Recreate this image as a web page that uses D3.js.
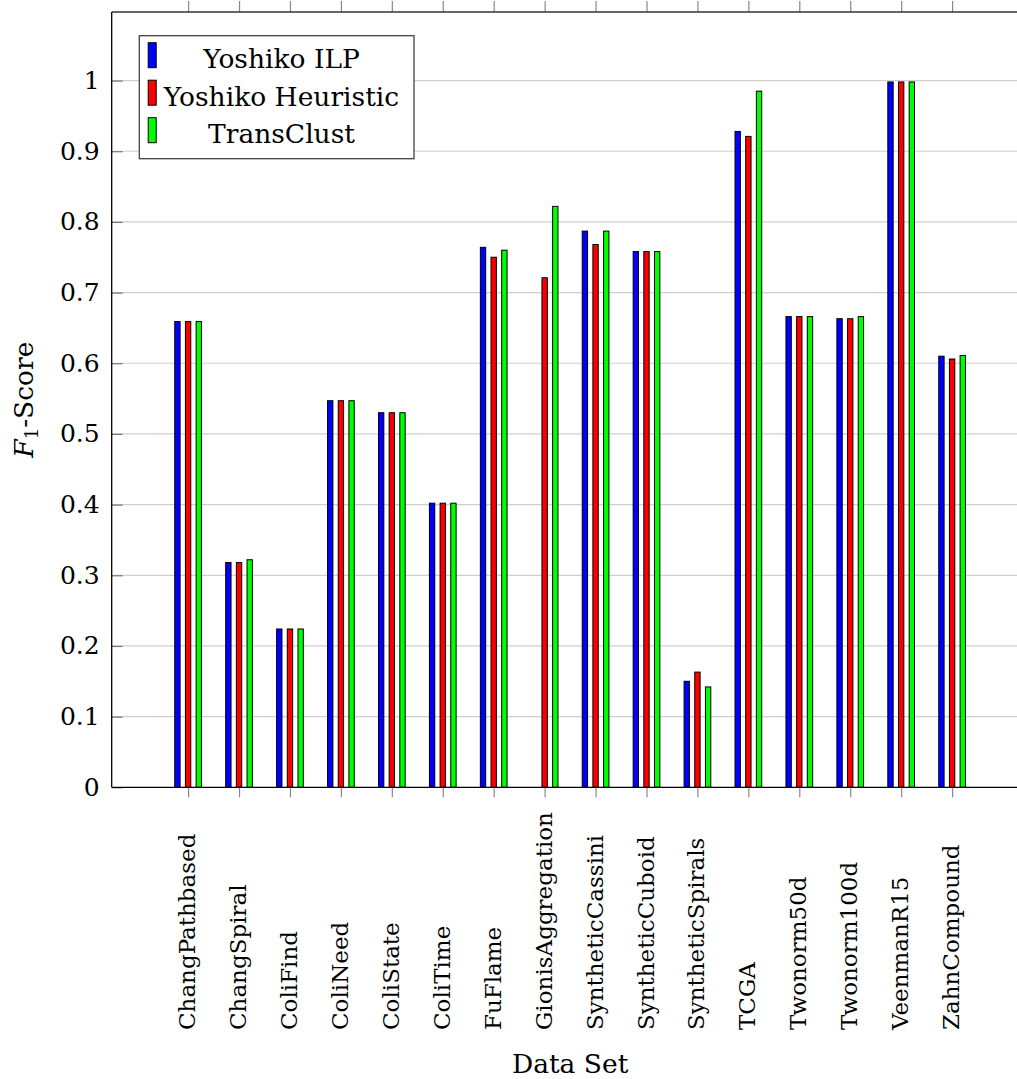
<!DOCTYPE html>
<html>
<head>
<meta charset="utf-8">
<script src="https://cdn.jsdelivr.net/npm/d3@7"></script>
<style>
  html, body { margin: 0; padding: 0; background: #fff; }
  svg { display: block; }
  svg text { font-family: "DejaVu Serif", serif; fill: #000; }
</style>
</head>
<body>
<script>
// F1-scores of three clustering tools over the benchmark data sets
const categories = [
  "ChangPathbased", "ChangSpiral", "ColiFind", "ColiNeed", "ColiState", "ColiTime",
  "FuFlame", "GionisAggregation", "SyntheticCassini", "SyntheticCuboid",
  "SyntheticSpirals", "TCGA", "Twonorm50d", "Twonorm100d", "VeenmanR15", "ZahnCompound"
];
const seriesNames = ["Yoshiko ILP", "Yoshiko Heuristic", "TransClust"];
const seriesColors = ["#0000ff", "#ff0000", "#00ff00"];
const yoshikoILP = [0.659, 0.318, 0.224, 0.547, 0.530, 0.402, 0.764, null, 0.787, 0.758, 0.150, 0.928, 0.666, 0.663, 0.998, 0.610];
const yoshikoHeuristic = [0.659, 0.318, 0.224, 0.547, 0.530, 0.402, 0.750, 0.721, 0.768, 0.758, 0.163, 0.921, 0.666, 0.663, 0.998, 0.606];
const transClust = [0.659, 0.322, 0.224, 0.547, 0.530, 0.402, 0.760, 0.822, 0.787, 0.758, 0.142, 0.985, 0.666, 0.666, 0.998, 0.611];
const yTicks = [0, 0.1, 0.2, 0.3, 0.4, 0.5, 0.6, 0.7, 0.8, 0.9, 1];
const yLabel = "Score";
const xLabel = "Data Set";

const series = [yoshikoILP, yoshikoHeuristic, transClust];

const W = 1017, H = 1079;
const plotLeft = 111.7, plotRight = 1028.5, plotTop = 12, plotBottom = 787.3;

const svg = d3.select("body").append("svg").attr("width", W).attr("height", H);

const x = d3.scaleLinear().domain([-1.5, 16.5]).range([plotLeft, plotRight]);
const y = d3.scaleLinear().domain([0, 1.097]).range([plotBottom, plotTop]);

// horizontal grid
svg.append("g")
  .selectAll("line").data(yTicks.filter(d => d > 0)).join("line")
  .attr("x1", plotLeft).attr("x2", W)
  .attr("y1", d => y(d)).attr("y2", d => y(d))
  .attr("stroke", "#cfcfcf").attr("stroke-width", 1.2);

// bars
const shift = 0.2095; // in category units
const bw = 0.105;
series.forEach((vals, s) => {
  svg.append("g")
    .selectAll("rect")
    .data(vals.map((v, i) => ({ v, i })).filter(d => d.v != null))
    .join("rect")
    .attr("x", d => x(d.i + (s - 1) * shift - bw / 2))
    .attr("width", x(bw) - x(0))
    .attr("y", d => y(d.v))
    .attr("height", d => y(0) - y(d.v))
    .attr("fill", seriesColors[s])
    .attr("stroke", "#000")
    .attr("stroke-width", 1);
});

// y axis (ticks inside, labels left)
const yAxis = d3.axisLeft(y).tickValues(yTicks).tickSize(-11).tickPadding(12)
  .tickFormat(d => (d === 0 || d === 1) ? String(d) : d3.format(".1f")(d));
const gy = svg.append("g").attr("transform", `translate(${plotLeft},0)`).call(yAxis);
gy.select(".domain").remove();
gy.selectAll(".tick line").attr("stroke", "#777").attr("stroke-width", 1.2);
gy.selectAll(".tick text").attr("font-size", 25);

// bottom axis ticks
const idx = d3.range(categories.length);
const xAxis = d3.axisBottom(x).tickValues(idx).tickSize(10).tickFormat("");
const gx = svg.append("g").attr("transform", `translate(0,${plotBottom})`).call(xAxis);
gx.select(".domain").remove();
gx.selectAll(".tick line").attr("stroke", "#888").attr("stroke-width", 1.2);

// top axis ticks
const xTop = d3.axisTop(x).tickValues(idx).tickSize(11).tickFormat("");
const gt = svg.append("g").attr("transform", `translate(0,${plotTop})`).call(xTop);
gt.select(".domain").remove();
gt.selectAll(".tick line").attr("stroke", "#888").attr("stroke-width", 1.2);

// frame
svg.append("line").attr("x1", plotLeft).attr("x2", W).attr("y1", plotTop).attr("y2", plotTop)
  .attr("stroke", "#333").attr("stroke-width", 1.3);
svg.append("line").attr("x1", plotLeft).attr("x2", W).attr("y1", plotBottom).attr("y2", plotBottom)
  .attr("stroke", "#000").attr("stroke-width", 1.3);
svg.append("line").attr("x1", plotLeft).attr("x2", plotLeft).attr("y1", plotTop).attr("y2", plotBottom)
  .attr("stroke", "#000").attr("stroke-width", 1.3);

// category labels, rotated, starting from a common baseline row
svg.append("g")
  .selectAll("text").data(categories).join("text")
  .attr("transform", (d, i) => `translate(${x(i) + 7},1030) rotate(-90)`)
  .attr("text-anchor", "start")
  .attr("font-size", 23)
  .text(d => d);

// axis titles
svg.append("text")
  .attr("x", (plotLeft + plotRight) / 2).attr("y", 1073)
  .attr("text-anchor", "middle").attr("font-size", 26.5)
  .text(xLabel);

const yl = svg.append("text")
  .attr("transform", `translate(33,${(plotTop + plotBottom) / 2}) rotate(-90)`)
  .attr("text-anchor", "middle").attr("font-size", 26.5);
yl.append("tspan").attr("font-style", "italic").text("F");
yl.append("tspan").attr("font-size", 18).attr("dy", 5).text("1");
yl.append("tspan").attr("dy", -5).text("-" + yLabel);

// legend
const lg = svg.append("g");
lg.append("rect").attr("x", 139.3).attr("y", 35.7).attr("width", 274.7).attr("height", 123)
  .attr("fill", "#fff").attr("stroke", "#444").attr("stroke-width", 1.3);
seriesNames.forEach((name, s) => {
  const cy = 55.2 + s * 37.5;
  lg.append("rect").attr("x", 148.2).attr("y", cy - 12.5).attr("width", 8).attr("height", 25)
    .attr("fill", seriesColors[s]).attr("stroke", "#000").attr("stroke-width", 1);
  lg.append("text").attr("x", 281.5).attr("y", cy + 13)
    .attr("text-anchor", "middle").attr("font-size", 26.5).text(name);
});
</script>
</body>
</html>
